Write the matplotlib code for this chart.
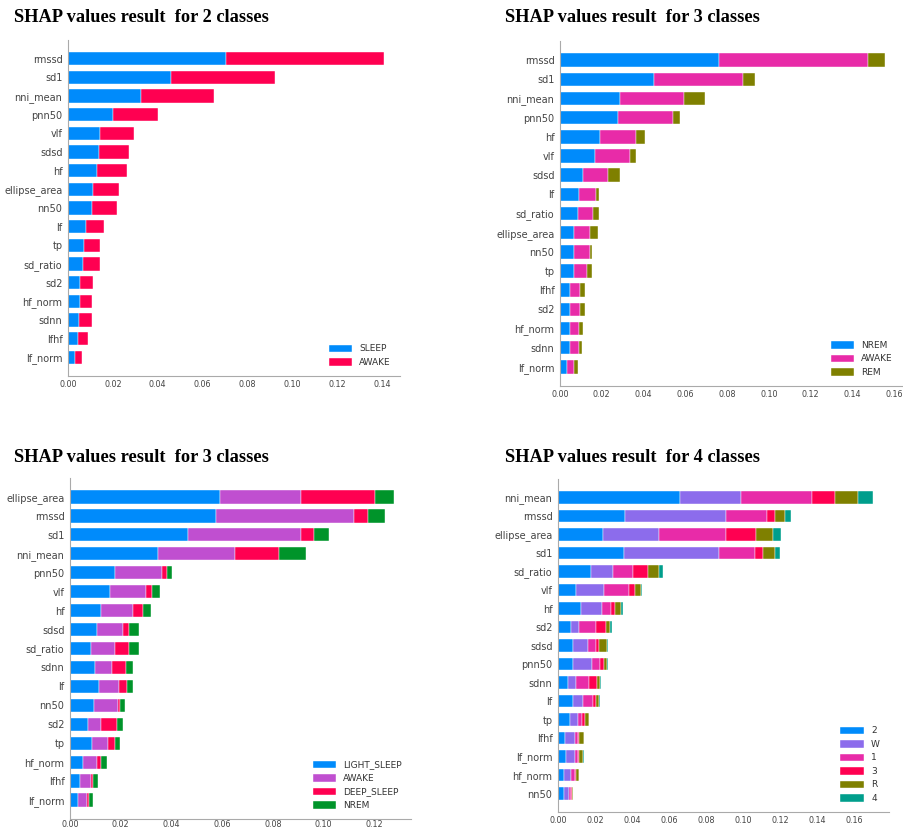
import numpy as np
import matplotlib
matplotlib.use("Agg")
import matplotlib.pyplot as plt

# ---- panel 1: 2 classes ----
feat_2 = ["rmssd", "sd1", "nni_mean", "pnn50", "vlf", "sdsd", "hf", "ellipse_area", "nn50",
          "lf", "tp", "sd_ratio", "sd2", "hf_norm", "sdnn", "lfhf", "lf_norm"]
classes_2 = ["SLEEP", "AWAKE"]
sleep_2 = [0.0705, 0.0459, 0.0325, 0.0201, 0.0144, 0.0136, 0.0131, 0.0110, 0.0107,
           0.0082, 0.0071, 0.0067, 0.0055, 0.0055, 0.0051, 0.0043, 0.0031]
awake_2 = [0.0703, 0.0464, 0.0327, 0.0198, 0.0149, 0.0135, 0.0133, 0.0118, 0.0110,
           0.0079, 0.0070, 0.0074, 0.0058, 0.0054, 0.0058, 0.0045, 0.0033]

# ---- panel 2: 3 classes (NREM / AWAKE / REM) ----
feat_3a = ["rmssd", "sd1", "nni_mean", "pnn50", "hf", "vlf", "sdsd", "lf", "sd_ratio",
           "ellipse_area", "nn50", "tp", "lfhf", "sd2", "hf_norm", "sdnn", "lf_norm"]
classes_3a = ["NREM", "AWAKE", "REM"]
nrem_3a = [0.0763, 0.0452, 0.0286, 0.0276, 0.0192, 0.0169, 0.0109, 0.0091, 0.0086,
           0.0069, 0.0069, 0.0069, 0.0046, 0.0046, 0.0046, 0.0046, 0.0034]
awake_3a = [0.0711, 0.0422, 0.0306, 0.0265, 0.0172, 0.0165, 0.0121, 0.0080, 0.0071,
            0.0075, 0.0073, 0.0062, 0.0051, 0.0048, 0.0043, 0.0043, 0.0033]
rem_3a = [0.0080, 0.0057, 0.0104, 0.0035, 0.0043, 0.0028, 0.0056, 0.0016, 0.0030,
          0.0036, 0.0010, 0.0021, 0.0021, 0.0024, 0.0023, 0.0018, 0.0019]

# ---- panel 3: LIGHT_SLEEP / AWAKE / DEEP_SLEEP / NREM ----
feat_3b = ["ellipse_area", "rmssd", "sd1", "nni_mean", "pnn50", "vlf", "hf", "sdsd",
           "sd_ratio", "sdnn", "lf", "nn50", "sd2", "tp", "hf_norm", "lfhf", "lf_norm"]
classes_3b = ["LIGHT_SLEEP", "AWAKE", "DEEP_SLEEP", "NREM"]
light_3b = [0.0592, 0.0576, 0.0466, 0.0349, 0.0178, 0.0159, 0.0121, 0.0105,
            0.0084, 0.0097, 0.0114, 0.0093, 0.0071, 0.0087, 0.0050, 0.0038, 0.0032]
awake_3b = [0.0320, 0.0545, 0.0446, 0.0300, 0.0183, 0.0141, 0.0129, 0.0103,
            0.0094, 0.0069, 0.0081, 0.0096, 0.0051, 0.0063, 0.0057, 0.0044, 0.0034]
deep_3b = [0.0292, 0.0054, 0.0050, 0.0175, 0.0021, 0.0022, 0.0037, 0.0026,
           0.0054, 0.0054, 0.0031, 0.0010, 0.0065, 0.0028, 0.0017, 0.0010, 0.0009]
nrem_3b = [0.0072, 0.0066, 0.0060, 0.0108, 0.0021, 0.0032, 0.0031, 0.0040,
           0.0042, 0.0030, 0.0024, 0.0018, 0.0022, 0.0021, 0.0021, 0.0020, 0.0016]

# ---- panel 4: 4 classes (2 / W / 1 / 3 / R / 4) ----
feat_4 = ["nni_mean", "rmssd", "ellipse_area", "sd1", "sd_ratio", "vlf", "hf", "sd2", "sdsd",
          "pnn50", "sdnn", "lf", "tp", "lfhf", "lf_norm", "hf_norm", "nn50"]
classes_4 = ["2", "W", "1", "3", "R", "4"]
c2_4 = [0.0658, 0.0363, 0.0243, 0.0358, 0.0178, 0.0099, 0.0126, 0.0070, 0.0083,
        0.0083, 0.0052, 0.0083, 0.0063, 0.0040, 0.0043, 0.0034, 0.0031]
cW_4 = [0.0331, 0.0543, 0.0302, 0.0513, 0.0121, 0.0147, 0.0111, 0.0045, 0.0079,
        0.0102, 0.0047, 0.0052, 0.0043, 0.0054, 0.0049, 0.0038, 0.0027]
c1_4 = [0.0382, 0.0220, 0.0361, 0.0194, 0.0107, 0.0137, 0.0049, 0.0088, 0.0043,
        0.0043, 0.0066, 0.0056, 0.0023, 0.0016, 0.0014, 0.0020, 0.0012]
c3_4 = [0.0127, 0.0045, 0.0161, 0.0043, 0.0080, 0.0031, 0.0023, 0.0054, 0.0014,
        0.0018, 0.0045, 0.0012, 0.0015, 0.0005, 0.0007, 0.0007, 0.0006]
cR_4 = [0.0124, 0.0056, 0.0093, 0.0066, 0.0061, 0.0036, 0.0029, 0.0024, 0.0045,
        0.0020, 0.0018, 0.0018, 0.0021, 0.0023, 0.0020, 0.0013, 0.0003]
c4_4 = [0.0076, 0.0030, 0.0045, 0.0022, 0.0018, 0.0003, 0.0015, 0.0009, 0.0006,
        0.0004, 0.0006, 0.0006, 0.0004, 0.0004, 0.0005, 0.0003, 0.0004]

# shap 风格颜色
BLUE = "#008bfb"
RED = "#ff0051"
MAGENTA = "#e82ba8"
PURPLE = "#8c6cec"
OLIVE = "#7f8000"
TEAL = "#009e8c"
ORCHID = "#c04fd0"
GREEN = "#00942a"

W, H = 904, 830
fig = plt.figure(figsize=(W / 100, H / 100), dpi=100)


def px_axes(left, top, right, bottom):
    # 像素坐标 -> figure 坐标
    return fig.add_axes([left / W, 1 - bottom / H, (right - left) / W, (bottom - top) / H])


def shap_bar(ax, features, series, labels, colors, xmax, xticks, xpad=3):
    n = len(features)
    y = np.arange(n)
    left = np.zeros(n)
    for vals, lab, col in zip(series, labels, colors):
        vals = np.array(vals)
        ax.barh(y, vals, left=left, height=0.7, color=col, label=lab,
                edgecolor="white", linewidth=0.3)
        left += vals
    ax.set_yticks(y)
    ax.set_yticklabels(features, fontsize=7, color="#444444")
    ax.set_ylim(n, -1)
    ax.set_xlim(0, xmax)
    ax.set_xticks(xticks)
    ax.set_xticklabels(["%.2f" % t for t in xticks], fontsize=5.8, color="#444444")
    ax.tick_params(axis="y", length=0, pad=4)
    ax.tick_params(axis="x", length=0, pad=xpad)
    for s in ["top", "right"]:
        ax.spines[s].set_visible(False)
    for s in ["left", "bottom"]:
        ax.spines[s].set_color("#aaaaaa")
        ax.spines[s].set_linewidth(0.8)
    ax.legend(loc="lower right", frameon=False, fontsize=6.5, handlelength=2.6,
              handleheight=0.9, labelcolor="#333333", borderaxespad=0.6)


title_font = dict(family=["Liberation Serif", "DejaVu Serif"], fontweight="bold", fontsize=13.2)

ax1 = px_axes(68, 40, 400, 376)
shap_bar(ax1, feat_2, [sleep_2, awake_2], classes_2, [BLUE, RED], 0.148,
         np.arange(0, 0.141, 0.02))
fig.text(14 / W, 1 - 18 / H, "SHAP values result  for 2 classes", va="center", **title_font)

ax2 = px_axes(560, 41, 902, 386)
shap_bar(ax2, feat_3a, [nrem_3a, awake_3a, rem_3a], classes_3a, [BLUE, MAGENTA, OLIVE], 0.1637,
         np.arange(0, 0.161, 0.02))
fig.text(505 / W, 1 - 18 / H, "SHAP values result  for 3 classes", va="center", **title_font)

ax3 = px_axes(70, 478, 411, 819)
shap_bar(ax3, feat_3b, [light_3b, awake_3b, deep_3b, nrem_3b], classes_3b,
         [BLUE, ORCHID, RED, GREEN], 0.1345, np.arange(0, 0.121, 0.02), xpad=1)
fig.text(14 / W, 1 - 457 / H, "SHAP values result  for 3 classes", va="center", **title_font)

ax4 = px_axes(558, 479, 889, 812)
shap_bar(ax4, feat_4, [c2_4, cW_4, c1_4, c3_4, cR_4, c4_4], classes_4,
         [BLUE, PURPLE, MAGENTA, RED, OLIVE, TEAL], 0.1787, np.arange(0, 0.161, 0.02))
fig.text(505 / W, 1 - 457 / H, "SHAP values result  for 4 classes", va="center", **title_font)

fig.savefig("out.png", dpi=100)
